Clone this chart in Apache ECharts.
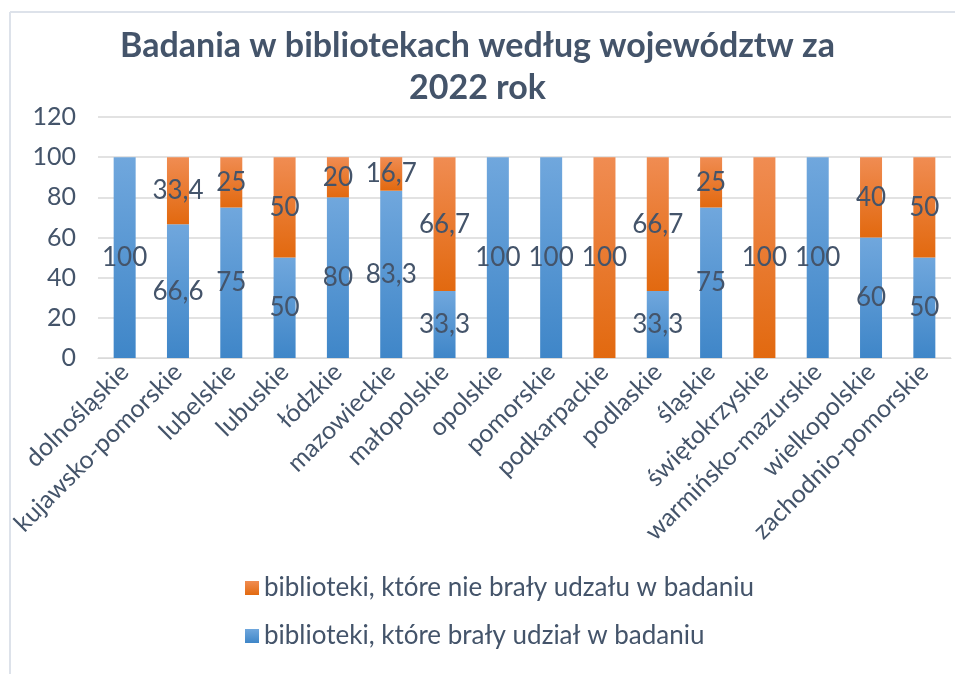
<!DOCTYPE html>
<html>
<head>
<meta charset="utf-8">
<script src="https://cdn.jsdelivr.net/npm/echarts@6/dist/echarts.min.js"></script>
<style>
  html, body { margin: 0; padding: 0; background: #fff; }
  #chart { width: 955px; height: 674px; }
</style>
</head>
<body>
<div id="chart"></div>
<script>
var regions = ['dolnośląskie', 'kujawsko-pomorskie', 'lubelskie', 'lubuskie', 'łódzkie',
  'mazowieckie', 'małopolskie', 'opolskie', 'pomorskie', 'podkarpackie', 'podlaskie',
  'śląskie', 'świętokrzyskie', 'warmińsko-mazurskie', 'wielkopolskie', 'zachodnio-pomorskie'];
var took = [100, 66.6, 75, 50, 80, 83.3, 33.3, 100, 100, 0, 33.3, 75, 0, 100, 60, 50];
var notTook = [0, 33.4, 25, 50, 20, 16.7, 66.7, 0, 0, 100, 66.7, 25, 100, 0, 40, 50];
var yTicks = [0, 20, 40, 60, 80, 100, 120];

var txt = '#44546A';
var font = 'Lato, "Open Sans", sans-serif';

function grad(top, bottom) {
  return new echarts.graphic.LinearGradient(0, 0, 0, 1, [
    { offset: 0, color: top }, { offset: 1, color: bottom }
  ]);
}

function lbl(p) {
  if (!p.value) return '';
  return String(p.value).replace('.', ',');
}

var myChart = echarts.init(document.getElementById('chart'));
var option = {
  backgroundColor: '#fff',
  animation: false,
  title: {
    text: 'Badania w bibliotekach według województw za\n2022 rok',
    left: 'center',
    top: 20,
    textStyle: { fontFamily: font, fontSize: 34, fontWeight: 'bold', color: txt, lineHeight: 42 }
  },
  graphic: [
    { type: 'line', shape: { x1: 10, y1: 12, x2: 955, y2: 12 }, style: { stroke: '#dde2ea', lineWidth: 2 } },
    { type: 'line', shape: { x1: 10, y1: 12, x2: 10, y2: 674 }, style: { stroke: '#dde2ea', lineWidth: 2 } }
  ],
  legend: {
    orient: 'vertical',
    left: 240,
    top: 570,
    itemGap: 22,
    itemWidth: 14,
    itemHeight: 14,
    icon: 'rect',
    data: ['biblioteki, które nie brały udzału w badaniu', 'biblioteki, które brały udział w badaniu'],
    textStyle: { fontFamily: font, fontSize: 26, color: txt }
  },
  grid: { left: 98, right: 4, top: 117, bottom: 316 },
  xAxis: {
    type: 'category',
    data: regions,
    axisTick: { show: false },
    axisLine: { lineStyle: { color: '#d9d9d9' } },
    axisLabel: { rotate: 45, interval: 0, fontFamily: font, fontSize: 25, color: txt, margin: 10 }
  },
  yAxis: {
    type: 'value',
    min: yTicks[0],
    max: yTicks[yTicks.length - 1],
    interval: 20,
    axisLine: { show: false },
    axisTick: { show: false },
    splitLine: { lineStyle: { color: '#d9d9d9', width: 1.5 } },
    axisLabel: { fontFamily: font, fontSize: 25, color: txt, margin: 22 }
  },
  series: [
    {
      name: 'biblioteki, które brały udział w badaniu',
      type: 'bar',
      stack: 'all',
      barWidth: 22,
      data: took,
      itemStyle: { color: grad('#70a7dd', '#3f86c8') },
      label: { show: true, position: 'inside', formatter: lbl, fontFamily: font, fontSize: 26, color: txt }
    },
    {
      name: 'biblioteki, które nie brały udzału w badaniu',
      type: 'bar',
      stack: 'all',
      barWidth: 22,
      data: notTook,
      itemStyle: { color: grad('#f08c52', '#e2690f') },
      label: { show: true, position: 'inside', formatter: lbl, fontFamily: font, fontSize: 26, color: txt }
    }
  ]
};
myChart.setOption(option);
</script>
</body>
</html>
